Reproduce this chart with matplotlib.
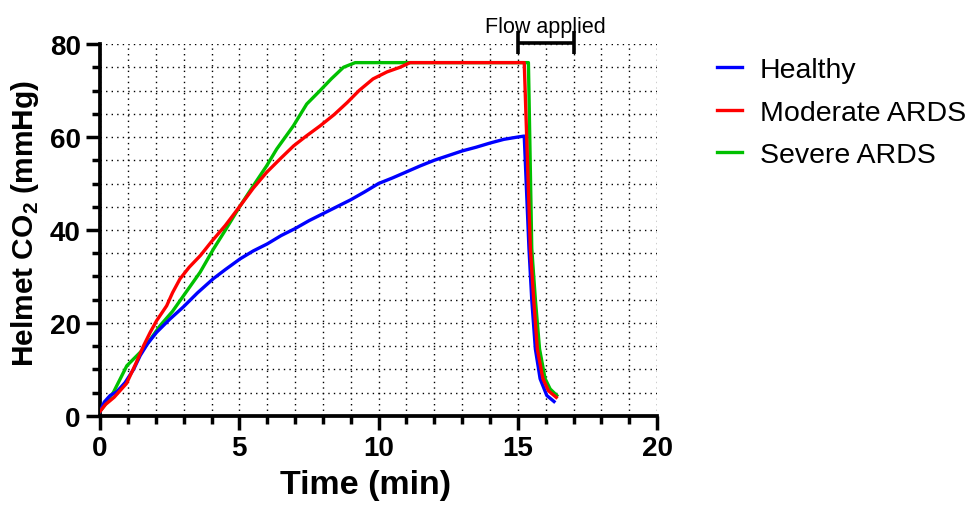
import matplotlib.pyplot as plt
from matplotlib.ticker import MultipleLocator

plt.rcParams['font.family'] = ['Liberation Sans', 'DejaVu Sans']
plt.rcParams['mathtext.fontset'] = 'custom'
plt.rcParams['mathtext.rm'] = 'Liberation Sans'
plt.rcParams['mathtext.bf'] = 'Liberation Sans:bold'

# data
t_healthy = [0, 0.15, 0.36, 0.6, 0.9, 1.2, 1.44, 1.7, 2.03, 2.5, 2.98, 3.5, 4.06, 4.5,
             5.03, 5.5, 6, 6.5, 7, 7.5, 8, 8.5, 9, 9.5, 10, 10.5, 11, 11.5, 12, 12.5,
             13, 13.5, 14, 14.5, 15, 15.23, 15.4, 15.5, 15.63, 15.8, 16.04, 16.3]
co2_healthy = [1, 3, 4.4, 5.2, 7.2, 10, 13, 15.5, 18, 20.8, 23.4, 26.5, 29.5, 31.5,
               33.8, 35.5, 37, 38.8, 40.3, 42, 43.5, 45, 46.5, 48.2, 50, 51.2, 52.5,
               53.8, 55, 56, 57, 57.8, 58.7, 59.5, 60, 60.2, 36, 25, 14.4, 8, 4.4, 3.1]

t_moderate = [0, 0.2, 0.5, 0.95, 1.3, 1.56, 1.8, 2.03, 2.39, 2.6, 2.87, 3.2, 3.6, 4,
              4.5, 5.03, 5.5, 5.98, 6.5, 6.95, 7.4, 7.9, 8.4, 8.87, 9.3, 9.8, 10.3,
              10.77, 11.13, 15.23, 15.45, 15.57, 15.7, 15.9, 16.1, 16.38]
co2_moderate = [1, 2.5, 4, 7, 11.5, 15.1, 18, 20.5, 23.7, 26.5, 29.5, 32, 34.5, 37.5,
                41, 45.2, 49, 52.4, 55.5, 58.1, 60.2, 62.4, 64.8, 67.4, 70, 72.5, 74,
                75, 76, 76, 36, 25, 14.4, 8, 5.4, 4]

t_severe = [0, 0.24, 0.48, 0.96, 1.56, 2.15, 2.6, 3.0, 3.59, 4.07, 4.5, 5.03, 5.5,
            5.98, 6.34, 6.94, 7.42, 7.9, 8.3, 8.74, 9.16, 15.38, 15.5, 15.63, 15.78,
            15.98, 16.16, 16.4]
co2_severe = [1, 3, 5.1, 10.8, 14.4, 19.4, 22.5, 25.9, 30.9, 35.9, 40, 45.2, 49.5,
              53.8, 57.4, 62.4, 67.1, 70, 72.5, 75, 76, 76, 36, 25, 14.4, 8, 5.8, 4.4]

flow_window = [15, 17]
flow_level = 80.3
cap_half = 2.4

fig = plt.figure(figsize=(9.72, 5.06), dpi=100)
ax = fig.add_axes([0.103, 0.176, 0.573, 0.735])

ax.plot(t_healthy, co2_healthy, color='#0000ff', lw=2.4, label='Healthy', zorder=3)
ax.plot(t_moderate, co2_moderate, color='#ff0000', lw=2.4, label='Moderate ARDS', zorder=3)
ax.plot(t_severe, co2_severe, color='#00c000', lw=2.4, label='Severe ARDS', zorder=2.9)

# flow applied bracket
ax.plot(flow_window, [flow_level, flow_level], color='black', lw=2.6, clip_on=False,
        solid_capstyle='butt', zorder=4)
for xb in flow_window:
    ax.plot([xb, xb], [flow_level - cap_half, flow_level + cap_half], color='black',
            lw=2.6, clip_on=False, solid_capstyle='butt', zorder=4)
ax.text(sum(flow_window) / 2, flow_level + 2.2, 'Flow applied', ha='center',
        va='baseline', fontsize=15.5)

ax.set_xlim(0, 20)
ax.set_ylim(0, 80)
ax.xaxis.set_major_locator(MultipleLocator(5))
ax.xaxis.set_minor_locator(MultipleLocator(1))
ax.yaxis.set_major_locator(MultipleLocator(20))
ax.yaxis.set_minor_locator(MultipleLocator(5))

ax.grid(True, which='both', color='black', linestyle=(0, (1, 3)), linewidth=1.0)
ax.set_axisbelow(True)

for s in ['top', 'right']:
    ax.spines[s].set_visible(False)
for s in ['left', 'bottom']:
    ax.spines[s].set_linewidth(2.7)

ax.tick_params(which='major', length=10, width=2.5, labelsize=20, pad=4)
ax.tick_params(which='minor', length=6, width=2.5)
for lab in ax.get_xticklabels() + ax.get_yticklabels():
    lab.set_fontweight('bold')

ax.set_xlabel('Time (min)', fontsize=24.5, fontweight='bold')
ax.set_ylabel(r'Helmet CO$_\mathbf{2}$ (mmHg)', fontsize=21.5, fontweight='bold')
ax.xaxis.set_label_coords(0.476, -0.142)
ax.yaxis.set_label_coords(-0.106, 0.519)

ax.legend(loc='upper left', bbox_to_anchor=(0.738, 0.885), bbox_transform=fig.transFigure,
          frameon=False, fontsize=20.5, handlelength=0.85, handletextpad=0.65,
          labelspacing=0.58, borderaxespad=0, borderpad=0)

fig.savefig('out.png', dpi=100)
